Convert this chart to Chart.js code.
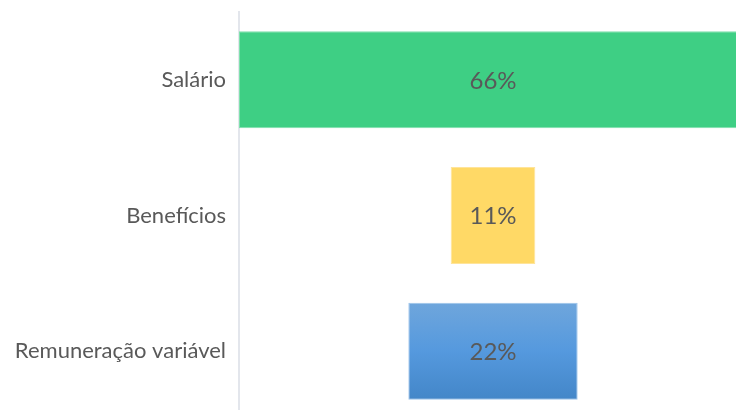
<!DOCTYPE html>
<html>
<head>
<meta charset="utf-8">
<script src="https://cdn.jsdelivr.net/npm/chart.js@4/dist/chart.umd.min.js"></script>
<style>
  html, body { margin: 0; padding: 0; background: #fff; }
  #wrap { width: 736px; height: 410px; overflow: hidden; position: relative; }
  #chart { position: absolute; left: 0; top: 0; }
</style>
</head>
<body>
<div id="wrap"><canvas id="chart" width="760" height="420"></canvas></div>
<script>
const categories = ['Salário', 'Benefícios', 'Remuneração variável'];
const shares = [66, 11, 22];
const colors = ['#3ecf84', '#ffd966', null]; // last one is a gradient
const borders = ['#7fe0ad', '#ffe49a', '#9cc3ea'];

const FONT = "'Gill Sans', 'Gill Sans MT', Lato, 'Open Sans', sans-serif";

const barLabels = {
  id: 'barLabels',
  afterDatasetsDraw(chart) {
    const ctx = chart.ctx;
    const meta = chart.getDatasetMeta(0);
    ctx.save();
    ctx.font = '24px ' + FONT;
    ctx.fillStyle = '#595959';
    ctx.textAlign = 'center';
    ctx.textBaseline = 'middle';
    meta.data.forEach((bar, i) => {
      const p = bar.getCenterPoint();
      ctx.fillText(shares[i] + '%', p.x, p.y + 1);
    });
    ctx.restore();
  }
};

function fillFor(context) {
  const i = context.dataIndex;
  if (colors[i]) return colors[i];
  const chart = context.chart;
  if (!chart.chartArea) return '#5599dd';
  const y = chart.scales.y;
  const c = y.getPixelForValue(i);
  const half = 49;
  const g = chart.ctx.createLinearGradient(0, c - half, 0, c + half);
  g.addColorStop(0, '#6fa6dc');
  g.addColorStop(0.5, '#5599de');
  g.addColorStop(1, '#4386c8');
  return g;
}

new Chart(document.getElementById('chart').getContext('2d'), {
  type: 'bar',
  data: {
    labels: categories,
    datasets: [{
      data: shares.map(v => [-v / 2, v / 2]),
      backgroundColor: fillFor,
      borderColor: borders,
      borderWidth: 1,
      borderSkipped: false,
      categoryPercentage: 1,
      barPercentage: 0.715
    }]
  },
  options: {
    indexAxis: 'y',
    responsive: false,
    animation: false,
    layout: { padding: { top: 12, right: 13, bottom: 1, left: 0 } },
    plugins: {
      legend: { display: false },
      tooltip: { enabled: false }
    },
    scales: {
      x: {
        display: false,
        min: -33,
        max: 33
      },
      y: {
        grid: { display: false, drawTicks: false },
        border: { display: true, color: '#e3e6ec', width: 2 },
        ticks: {
          color: '#595959',
          font: { family: FONT, size: 22 },
          padding: 13
        },
        afterFit(scale) {
          scale.width = 239;
          scale.paddingTop = 0;
          scale.paddingBottom = 0;
        }
      }
    }
  },
  plugins: [barLabels]
});
</script>
</body>
</html>
